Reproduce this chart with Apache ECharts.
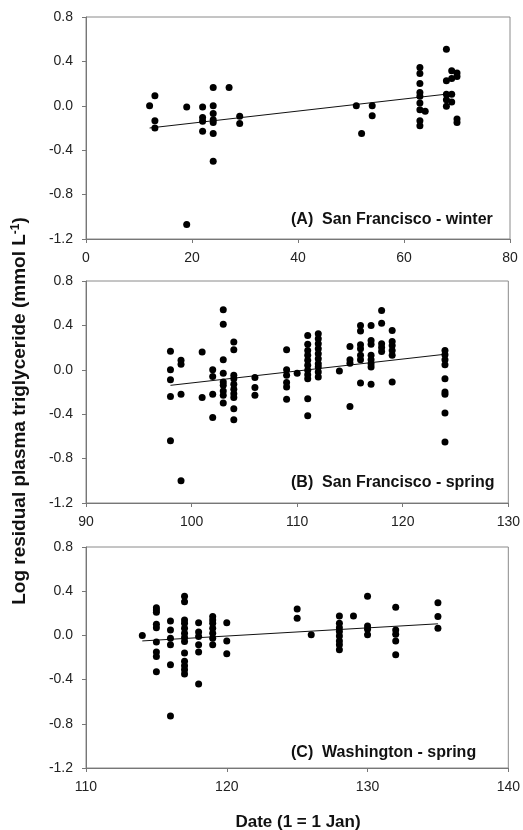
<!DOCTYPE html>
<html>
<head>
<meta charset="utf-8">
<script src="https://cdn.jsdelivr.net/npm/echarts@6/dist/echarts.min.js"></script>
<style>
  html, body { margin: 0; padding: 0; background: #fff; }
  #chart { width: 523px; height: 830px; }
</style>
</head>
<body>
<div id="chart"></div>
<script>
// y ticks shared by the three panels
var yTicks = [-1.2, -0.8, -0.4, 0.0, 0.4, 0.8];

// (A) San Francisco - winter : [day, log residual TG]
var sfWinter = [
  [12, 0.00], [13, 0.09], [13, -0.135], [13, -0.20],
  [19, -0.01], [19, -1.07],
  [22, -0.01], [22, -0.105], [22, -0.14], [22, -0.23],
  [24, 0.165], [24, 0.00], [24, -0.07], [24, -0.125], [24, -0.15], [24, -0.25], [24, -0.50],
  [27, 0.165], [29, -0.095], [29, -0.16],
  [51, 0.00], [52, -0.25], [54, 0.00], [54, -0.09],
  [63, 0.345], [63, 0.29], [63, 0.20], [63, 0.12], [63, 0.085], [63, 0.025], [63, -0.035], [63, -0.135], [63, -0.18],
  [64, -0.05],
  [68, 0.51], [68, 0.225], [68, 0.105], [68, 0.055], [68, -0.005],
  [69, 0.315], [69, 0.245], [69, 0.105], [69, 0.035],
  [70, 0.295], [70, 0.265], [70, -0.12], [70, -0.15]
];
var sfWinterFit = [[12, -0.20], [68, 0.105]];

// (B) San Francisco - spring
var sfSpring = [
  [98, 0.166], [98, 0.00], [98, -0.09], [98, -0.24], [98, -0.64],
  [99, 0.085], [99, 0.05], [99, -0.22], [99, -1.00],
  [101, 0.16], [101, -0.25],
  [102, 0.00], [102, -0.06], [102, -0.22], [102, -0.43],
  [103, 0.54], [103, 0.41], [103, 0.09], [103, -0.03], [103, -0.11], [103, -0.14], [103, -0.19], [103, -0.23], [103, -0.30],
  [104, 0.25], [104, 0.18], [104, -0.05], [104, -0.08], [104, -0.13], [104, -0.175], [104, -0.215], [104, -0.25], [104, -0.35], [104, -0.45],
  [106, -0.07], [106, -0.16], [106, -0.23],
  [109, 0.18], [109, 0.00], [109, -0.05], [109, -0.115], [109, -0.155], [109, -0.265],
  [110, -0.03],
  [111, 0.31], [111, 0.23], [111, 0.175], [111, 0.13], [111, 0.085], [111, 0.04], [111, -0.005], [111, -0.045], [111, -0.08], [111, -0.26], [111, -0.415],
  [112, 0.325], [112, 0.28], [112, 0.235], [112, 0.19], [112, 0.145], [112, 0.10], [112, 0.055], [112, 0.025], [112, -0.02], [112, -0.065],
  [114, -0.01],
  [115, 0.21], [115, 0.09], [115, 0.06], [115, -0.33],
  [116, 0.40], [116, 0.35], [116, 0.225], [116, 0.19], [116, 0.13], [116, 0.09], [116, -0.12],
  [117, 0.40], [117, 0.265], [117, 0.23], [117, 0.13], [117, 0.09], [117, 0.055], [117, 0.025], [117, -0.13],
  [118, 0.535], [118, 0.42], [118, 0.235], [118, 0.20], [118, 0.165],
  [119, 0.355], [119, 0.255], [119, 0.22], [119, 0.175], [119, 0.13], [119, -0.11],
  [124, 0.175], [124, 0.135], [124, 0.09], [124, 0.045], [124, -0.08], [124, -0.20], [124, -0.22], [124, -0.39], [124, -0.65]
];
var sfSpringFit = [[98, -0.14], [124, 0.14]];

// (C) Washington - spring
var dcSpring = [
  [114, 0.00],
  [115, 0.25], [115, 0.23], [115, 0.21], [115, 0.10], [115, 0.07], [115, -0.06], [115, -0.15], [115, -0.19], [115, -0.33],
  [116, 0.13], [116, 0.05], [116, -0.025], [116, -0.085], [116, -0.265], [116, -0.73],
  [117, 0.355], [117, 0.305], [117, 0.14], [117, 0.11], [117, 0.065], [117, 0.02], [117, -0.02], [117, -0.055], [117, -0.16], [117, -0.235], [117, -0.275], [117, -0.31], [117, -0.35],
  [118, 0.115], [118, 0.03], [118, -0.01], [118, -0.085], [118, -0.15], [118, -0.44],
  [119, 0.17], [119, 0.14], [119, 0.11], [119, 0.065], [119, 0.02], [119, -0.025], [119, -0.085],
  [120, 0.115], [120, -0.05], [120, -0.165],
  [125, 0.24], [125, 0.155],
  [126, 0.005],
  [128, 0.175], [128, 0.11], [128, 0.07], [128, 0.035], [128, -0.005], [128, -0.05], [128, -0.085], [128, -0.13],
  [129, 0.175],
  [130, 0.355], [130, 0.085], [130, 0.055], [130, 0.005],
  [132, 0.255], [132, 0.05], [132, 0.01], [132, -0.05], [132, -0.175],
  [135, 0.295], [135, 0.17], [135, 0.065]
];
var dcSpringFit = [[114, -0.05], [135, 0.105]];

var panelLabels = ['(A)  San Francisco - winter', '(B)  San Francisco - spring', '(C)  Washington - spring'];
var xRanges = [[0, 80, 20], [90, 130, 10], [110, 140, 10]];

var chart = echarts.init(document.getElementById('chart'));

var font = 'Liberation Sans, Arial, sans-serif';
var grids = [
  { left: 86, right: 13, top: 17, height: 222 },
  { left: 86, right: 13, top: 281, height: 222 },
  { left: 86, right: 13, top: 547, height: 221 }
];

var xAxes = [], yAxes = [], series = [];
var allPoints = [sfWinter, sfSpring, dcSpring];
var allFits = [sfWinterFit, sfSpringFit, dcSpringFit];

grids.forEach(function (g, i) {
  g.show = true;
  g.borderColor = '#8a8a8a';
  g.borderWidth = 1;
  xAxes.push({
    type: 'value', gridIndex: i,
    min: xRanges[i][0], max: xRanges[i][1], interval: xRanges[i][2],
    axisLine: { onZero: false, lineStyle: { color: '#777', width: 1 } },
    axisTick: { inside: false, length: 4, lineStyle: { color: '#777' } },
    axisLabel: { color: '#222', fontSize: 14, fontFamily: font, margin: 12 },
    splitLine: { show: false }
  });
  yAxes.push({
    type: 'value', gridIndex: i,
    min: yTicks[0], max: yTicks[yTicks.length - 1], interval: 0.4,
    axisLine: { show: true, onZero: false, lineStyle: { color: '#777', width: 1 } },
    axisTick: { show: true, inside: false, length: 4, lineStyle: { color: '#777' } },
    axisLabel: {
      color: '#222', fontSize: 14, fontFamily: font, margin: 13,
      formatter: function (v) { return v.toFixed(1); }
    },
    splitLine: { show: false }
  });
  series.push({
    type: 'scatter', xAxisIndex: i, yAxisIndex: i,
    symbol: 'circle', symbolSize: 7,
    itemStyle: { color: '#000', opacity: 1 },
    data: allPoints[i], z: 3
  });
  series.push({
    type: 'line', xAxisIndex: i, yAxisIndex: i,
    symbol: 'none',
    lineStyle: { color: '#111', width: 1 },
    data: allFits[i], z: 2
  });
});

var labelYs = [220, 483, 753];
var graphics = labelYs.map(function (y, i) {
  return {
    type: 'text', x: 291, y: y,
    style: {
      text: panelLabels[i], fill: '#111',
      font: 'bold 16px ' + font, verticalAlign: 'middle'
    }
  };
});
graphics.push({
  type: 'text', x: 298, y: 822,
  style: {
    text: 'Date (1 = 1 Jan)', fill: '#111',
    font: 'bold 17px ' + font, align: 'center', verticalAlign: 'middle'
  }
});
graphics.push({
  type: 'text', x: 20, y: 411, rotation: Math.PI / 2,
  style: {
    text: '{a|Log residual plasma triglyceride (mmol L}{s|-1}{a|)}',
    align: 'center', verticalAlign: 'middle',
    rich: {
      a: { font: 'bold 19px ' + font, fill: '#111' },
      s: { font: 'bold 12px ' + font, fill: '#111', verticalAlign: 'top', padding: [0, 0, 9, 0] }
    }
  }
});

chart.setOption({
  backgroundColor: '#fff',
  animation: false,
  grid: grids,
  xAxis: xAxes,
  yAxis: yAxes,
  series: series,
  graphic: graphics
});
</script>
</body>
</html>
